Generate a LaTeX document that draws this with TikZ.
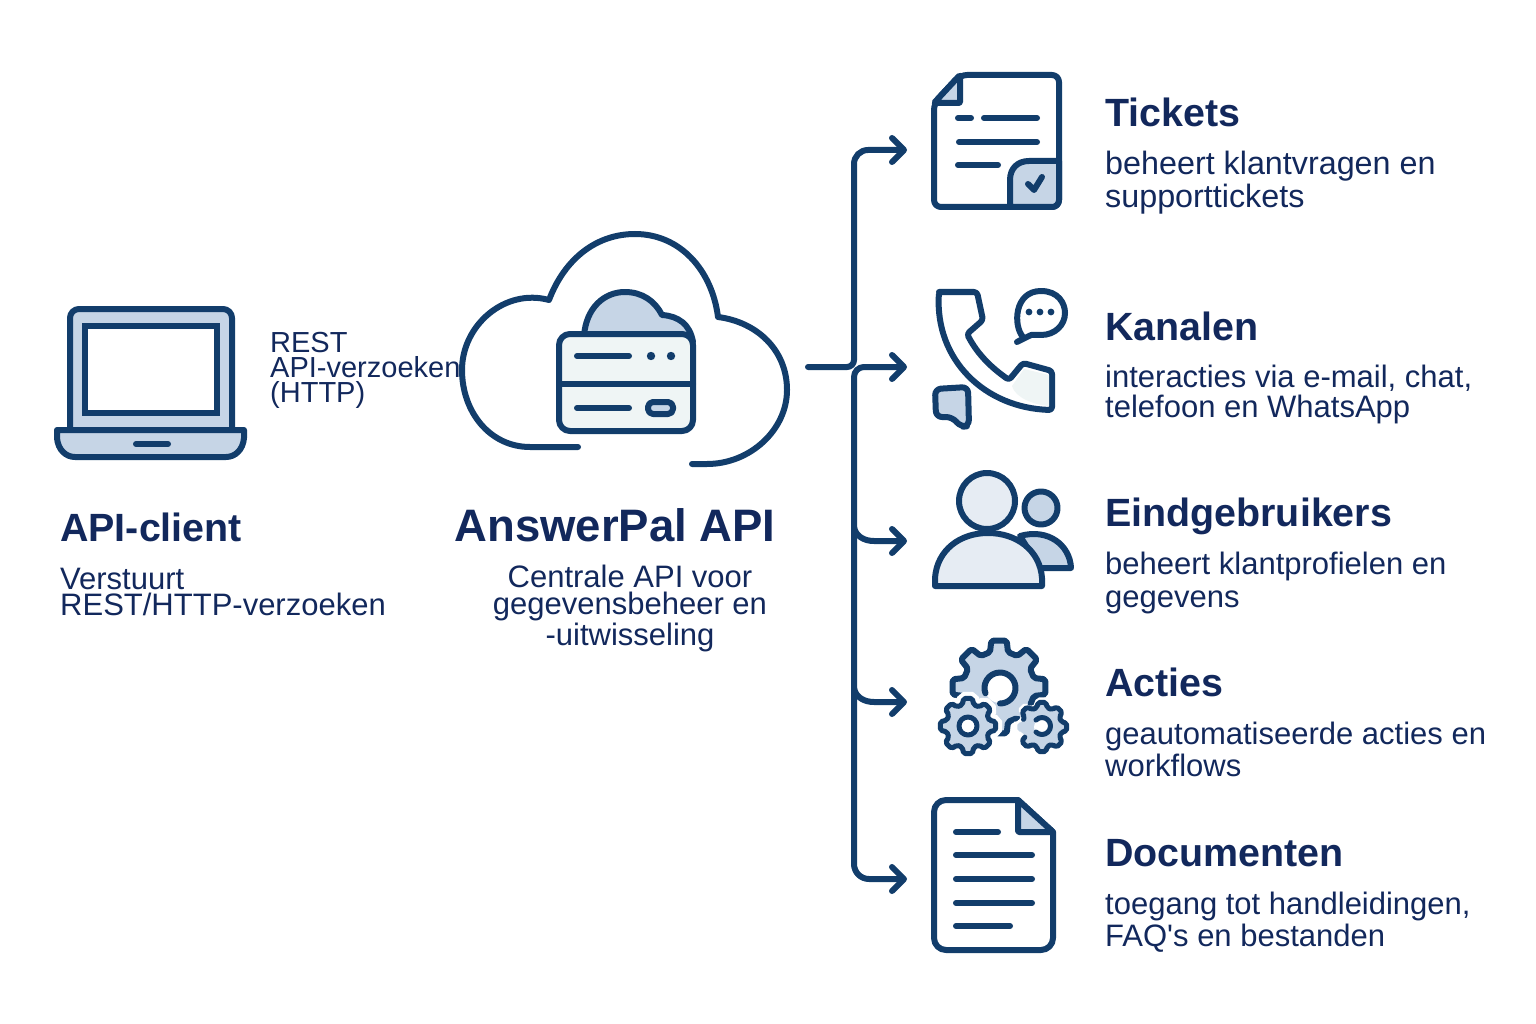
\documentclass[tikz,border=0pt]{standalone}
\usepackage{xcolor}
\usepackage{fontspec}
\setmainfont{Liberation Sans}
\usetikzlibrary{arrows.meta, calc}
\definecolor{iconBlue}{HTML}{123D6B}
\definecolor{textBlue}{HTML}{12285C}
\definecolor{softBlue}{HTML}{C6D5E6}
\definecolor{paleBlue}{HTML}{E6ECF3}
\definecolor{paleGreen}{HTML}{EFF5F5}
\def\iconWidth{6pt}
\def\barbTip{Straight Barb[length=12pt,width=24pt,round]}
\tikzset{
    iconline/.style={draw=iconBlue, line width=\iconWidth, line cap=round, line join=round},
    flow/.style={iconline, line join=miter},
    heading/.style={anchor=base west, inner sep=0pt, text=textBlue, font=\bfseries\fontsize{39.4}{39}\selectfont},
    blurb/.style={anchor=north west, inner sep=0pt, align=left, text=textBlue}
}
% one gear outline, teeth number #5 to #6 of eight
\newcommand{\gearTeeth}[6]{
    ({#1+#4*cos((#5-0.5)*45)},{#2+#4*sin((#5-0.5)*45)})
    \foreach \k in {#5,...,#6} {
        -- ({#1+#4*cos((\k-0.32)*45)},{#2+#4*sin((\k-0.32)*45)})
        -- ({#1+#3*cos((\k-0.21)*45)},{#2+#3*sin((\k-0.21)*45)})
        -- ({#1+#3*cos((\k+0.21)*45)},{#2+#3*sin((\k+0.21)*45)})
        -- ({#1+#4*cos((\k+0.32)*45)},{#2+#4*sin((\k+0.32)*45)})
    }
}
\begin{document}
\begin{tikzpicture}[x=1pt, y=-1pt]
    \useasboundingbox (0,0) rectangle (1536,1024);

    % Draw laptop
    \draw[iconline, fill=softBlue, rounded corners=9pt] (70,430) -- (70,309) -- (232,309) -- (232,430);
    \draw[iconline, fill=white, line join=miter] (85,326) rectangle (217,413);
    \draw[iconline, fill=softBlue] (57,430) -- (244,430) -- (244,438) .. controls (243,450) and (235,457) .. (226,457)
        -- (75,457) .. controls (66,457) and (58,450) .. (57,438) -- cycle;
    \draw[iconline] (136,444) -- (168,444);

    % Draw cloud
    \draw[iconline] (578,447) -- (530,447) .. controls (490,447) and (462,412) .. (462,370)
        .. controls (462,325) and (505,288) .. (549,300)
        .. controls (565,258) and (597,234) .. (635,234)
        .. controls (680,234) and (712,270) .. (718,317)
        .. controls (757,322) and (787,350) .. (787,390)
        .. controls (787,430) and (750,464) .. (707,464) -- (692,464);

    % Draw server inside the cloud
    \draw[iconline, fill=softBlue] (584,336) .. controls (586,308) and (604,292) .. (625,292)
        .. controls (642,292) and (655,301) .. (662,315)
        .. controls (678,316) and (690,324) .. (693,342) -- cycle;
    \draw[iconline, fill=paleGreen, rounded corners=11pt] (559,334) rectangle (693,431);
    \draw[iconline] (559,384) -- (693,384);
    \draw[iconline] (577,356) -- (629,356);
    \draw[iconline] (577,408) -- (629,408);
    \foreach \dotX in {651,671} {
        \fill[iconBlue] (\dotX,356) circle[radius=4.2pt];
    }
    \draw[iconline, fill=softBlue, rounded corners=5pt] (648,402) rectangle (673,414);

    % Draw tickets icon
    \draw[iconline, fill=white, rounded corners=7pt] (934,103) -- (960,75) -- (1059,75) -- (1059,207) -- (934,207) -- cycle;
    \draw[iconline, fill=softBlue, rounded corners=1pt] (934,103) -- (960,75) -- (960,103) -- cycle;
    \draw[iconline, fill=softBlue] (1010,207) -- (1010,180) .. controls (1010,168) and (1018,161) .. (1029,161) -- (1059,161)
        -- (1059,200) .. controls (1059,204) and (1056,207) .. (1052,207) -- cycle;
    \draw[iconline] (1028,184) -- (1034,190) -- (1042,177);
    \draw[iconline] (958,118) -- (971,118);
    \draw[iconline] (984,118) -- (1037,118);
    \draw[iconline] (959,142) -- (1037,142);
    \draw[iconline] (958,165) -- (998,165);

    % Draw kanalen icon
    \draw[iconline, fill=white, rounded corners=3pt] (942,292) -- (977,292) -- (983,320) -- (967,334)
        .. controls (978,355) and (992,368) .. (1009,380) -- (1023,363) -- (1052,371) -- (1052,410)
        .. controls (985,408) and (935,360) .. (939,292) -- cycle;
    \fill[paleGreen] (1012,386) -- (1024,369) -- (1049,375) -- (1049,406) .. controls (1035,405) and (1015,398) .. (1012,386);
    \draw[iconline] (1023,337) .. controls (1013,326) and (1014,291) .. (1041,291) .. controls (1058,291) and (1065,303) .. (1065,313)
        .. controls (1065,325) and (1055,335) .. (1041,335) .. controls (1035,335) and (1032,334) .. (1029,336)
        -- (1017,342) .. controls (1021,340) and (1024,338) .. (1023,337);
    \foreach \dotX in {1029,1040,1051} {
        \fill[iconBlue] (\dotX,312) circle[radius=3.4pt];
    }
    \draw[iconline, fill=softBlue, rounded corners=6pt] (935,389) -- (968,387) -- (969,426) -- (961,427) -- (952,417) -- (936,417) -- cycle;

    % Draw eindgebruikers icon
    \draw[iconline, fill=softBlue] (1020,536) .. controls (1048,528) and (1070,545) .. (1071,568) -- (1040,568) -- cycle;
    \draw[iconline, fill=softBlue] (1041,508) circle[radius=16.5pt];
    \draw[iconline, fill=paleBlue] (935,586) -- (935,578) .. controls (937,550) and (960,533) .. (988,533)
        .. controls (1016,533) and (1040,550) .. (1042,578) -- (1042,586) -- cycle;
    \draw[iconline, fill=paleBlue] (987,501) circle[radius=28pt];

    % Draw acties icon
    \fill[softBlue, rounded corners=2pt] \gearTeeth{999}{687}{47}{36}{0}{7} -- cycle;
    \draw[iconline, rounded corners=2pt] \gearTeeth{999}{687}{47}{36}{-4}{2};
    \fill[white] (1000,688) circle[radius=15pt];
    \draw[iconline] (1000,703.5) arc[start angle=-90, end angle=200, radius=15.5pt];
    \draw[white, line width=13pt, rounded corners=2pt] \gearTeeth{968}{726}{28}{22}{0}{7} -- cycle;
    \draw[iconline, line width=5pt, fill=softBlue, rounded corners=2pt] \gearTeeth{968}{726}{28}{22}{0}{7} -- cycle;
    \draw[iconline, line width=5pt, fill=white] (968,726) circle[radius=9pt];
    \fill[white, rounded corners=2pt] \gearTeeth{1042}{727}{30}{24}{0}{7} -- cycle;
    \fill[softBlue, rounded corners=2pt] \gearTeeth{1042}{727}{25}{20}{0}{7} -- cycle;
    \draw[iconline, line width=5pt, rounded corners=2pt] \gearTeeth{1042}{727}{25}{20}{-3}{3};
    \fill[white] (1042,727) circle[radius=8pt];
    \draw[iconline, line width=5pt] (1036,720) arc[start angle=135, end angle=-135, radius=8.5pt];

    % Draw documenten icon
    \draw[iconline, fill=white, rounded corners=12pt] (1018,800) -- (934,800) -- (934,950) -- (1053,950) -- (1053,832);
    \draw[iconline] (1018,800) -- (1053,832);
    \draw[iconline, fill=softBlue, rounded corners=1pt] (1018,800) -- (1018,832) -- (1053,832) -- cycle;
    \foreach \lineY/\lineEnd in {832/998,855/1032,879/1032,903/1032,926/1010} {
        \draw[iconline] (956,\lineY) -- (\lineEnd,\lineY);
    }

    % Draw connectors
    \coordinate (apiOut) at (808,367);
    \coordinate (hub) at (854,367);
    \coordinate (ticketsIn) at (907,150);
    \coordinate (kanalenIn) at (907,367);
    \coordinate (eindgebruikersIn) at (907,541);
    \coordinate (actiesIn) at (907,702);
    \coordinate (documentenIn) at (907,879);
    \draw[flow, -{\barbTip}, rounded corners=7pt] (apiOut) -- (hub) [rounded corners=14pt] -- (hub |- ticketsIn) -- (ticketsIn);
    \draw[flow, {\barbTip}-{\barbTip}, rounded corners=10pt] (kanalenIn) -- (hub) [rounded corners=15pt] -- (hub |- documentenIn) -- (documentenIn);
    \foreach \target in {eindgebruikersIn, actiesIn} {
        \draw[flow, -{\barbTip}] ($(hub |- \target)+(0,-14)$) to[out=-80, in=180] ($(hub |- \target)+(20,0)$) -- (\target);
    }

    % Draw left and centre labels
    \node[blurb, font=\fontsize{29}{25}\selectfont] (restLabel) at (270,332) {REST\\API-verzoeken\\(HTTP)};
    \node[heading] (clientTitle) at (60,541) {API-client};
    \node[blurb, font=\fontsize{31}{26}\selectfont] (clientText) at (60,568) {Verstuurt\\REST/HTTP-verzoeken};
    \node[heading, anchor=base, font=\bfseries\fontsize{45.5}{46}\selectfont] (apiTitle) at (615,541) {AnswerPal API};
    \node[anchor=north, inner sep=0pt, align=center, text=textBlue, font=\fontsize{31}{27}\selectfont] (apiText) at (630,565)
        {Centrale API voor\\gegevensbeheer en\\[1pt]-uitwisseling};

    % Draw right labels
    \foreach \rowName/\rowTitle/\titleY/\textY/\textSize/\textSkip/\firstLine/\secondLine in {
        tickets/Tickets/127/151/32.3/33/{beheert klantvragen en}/{supporttickets},
        kanalen/Kanalen/340/365/31/30/{interacties via e-mail, chat,}/{telefoon en WhatsApp},
        eindgebruikers/Eindgebruikers/526/552/31/33/{beheert klantprofielen en}/{gegevens},
        acties/Acties/696/722/31/32/{geautomatiseerde acties en}/{workflows},
        documenten/Documenten/866/892/31/32/{toegang tot handleidingen,}/{FAQ\textquotesingle s en bestanden}} {
        \node[heading] (\rowName Title) at (1105,\titleY) {\rowTitle};
        \node[blurb, font=\fontsize{\textSize}{\textSkip}\selectfont] (\rowName Text) at (1105,\textY) {\firstLine\\\secondLine};
    }
\end{tikzpicture}
\end{document}
